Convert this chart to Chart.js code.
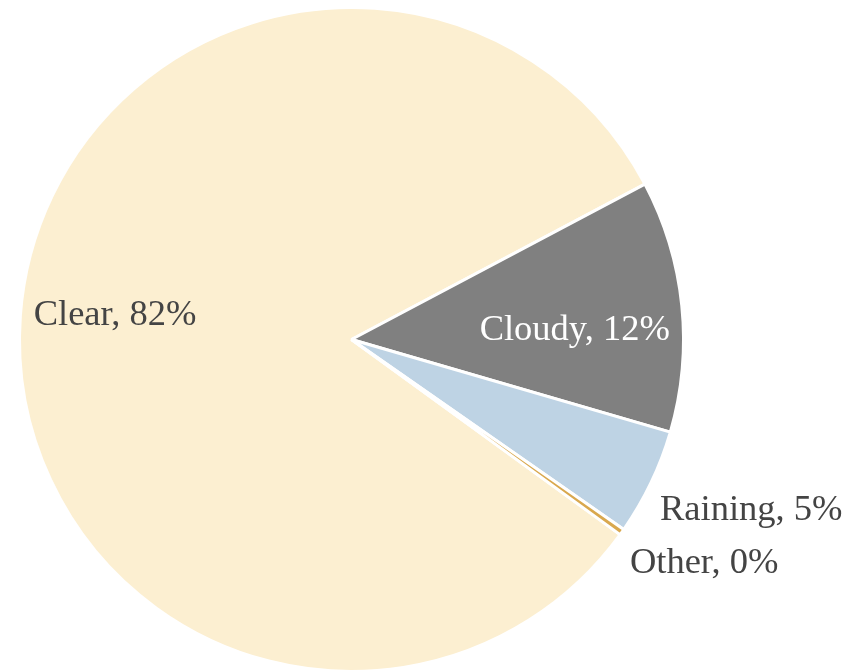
<!DOCTYPE html>
<html>
<head>
<meta charset="utf-8">
<script src="https://cdn.jsdelivr.net/npm/chart.js@4/dist/chart.umd.min.js"></script>
<style>
  html, body { margin: 0; padding: 0; background: #ffffff; overflow: hidden; }
  #wrap { width: 854px; height: 671px; position: relative; overflow: hidden; }
</style>
</head>
<body>
<div id="wrap"><canvas id="c" width="854" height="680"></canvas></div>
<script>
// Share of observations by weather condition (percent)
const categories = ['Clear', 'Cloudy', 'Raining', 'Other'];
const shares = [82.25, 12.25, 5.2, 0.3];
const sliceColors = ['#fcefd1', '#808080', '#bed3e4', '#d9a84e'];

// Label style per slice: inside the slice or just outside its rim
const labelPlacement = [
  { inside: true,  radius: 0.714, nudgeY: -7, color: '#444444' },
  { inside: true,  radius: 0.676, nudgeY: 14, color: '#ffffff' },
  { inside: false, gapX: 9, gapY: 28, color: '#444444' },
  { inside: false, gapX: 8, gapY: 31, color: '#444444' }
];

const sliceLabels = {
  id: 'sliceLabels',
  afterDatasetsDraw(chart) {
    const ctx = chart.ctx;
    const meta = chart.getDatasetMeta(0);
    const total = shares.reduce((a, b) => a + b, 0);
    ctx.save();
    ctx.font = '36.5px "Liberation Serif", "Times New Roman", serif';
    ctx.textBaseline = 'middle';
    meta.data.forEach((arc, i) => {
      const p = arc.getProps(['x', 'y', 'startAngle', 'endAngle', 'outerRadius'], true);
      const mid = (p.startAngle + p.endAngle) / 2;
      const text = categories[i] + ', ' + Math.round(shares[i] / total * 100) + '%';
      const cfg = labelPlacement[i];
      ctx.fillStyle = cfg.color;
      if (cfg.inside) {
        const r = p.outerRadius * cfg.radius;
        ctx.textAlign = 'center';
        ctx.fillText(text, p.x + Math.cos(mid) * r, p.y + Math.sin(mid) * r + cfg.nudgeY);
      } else {
        const ex = p.x + Math.cos(mid) * p.outerRadius;
        const ey = p.y + Math.sin(mid) * p.outerRadius;
        ctx.textAlign = 'left';
        ctx.fillText(text, ex + cfg.gapX, ey + cfg.gapY);
      }
    });
    ctx.restore();
  }
};

new Chart(document.getElementById('c'), {
  type: 'pie',
  data: {
    labels: categories,
    datasets: [{
      data: shares,
      backgroundColor: sliceColors,
      borderColor: '#ffffff',
      borderWidth: 3,
      hoverOffset: 0
    }]
  },
  options: {
    responsive: false,
    animation: false,
    rotation: 126,
    layout: { padding: { left: 18, right: 169, top: 6, bottom: 7 } },
    plugins: {
      legend: { display: false },
      tooltip: { enabled: false }
    }
  },
  plugins: [sliceLabels]
});
</script>
</body>
</html>
